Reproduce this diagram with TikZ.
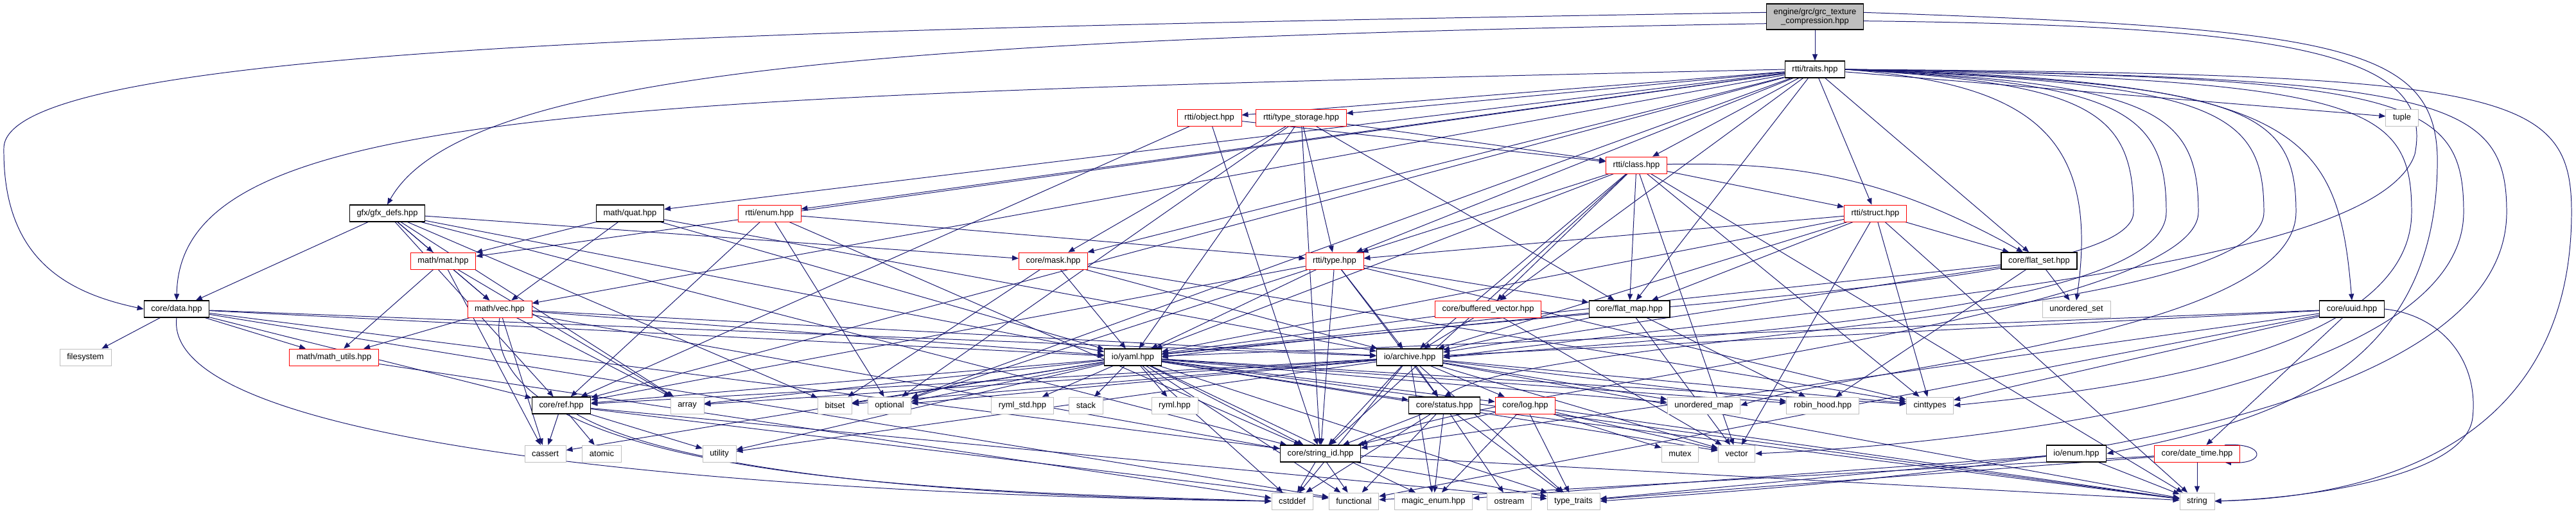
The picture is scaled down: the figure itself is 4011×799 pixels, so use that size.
\documentclass[tikz,border=0pt]{standalone}
\usepackage{fontspec}
\setmainfont{Liberation Sans}
\usetikzlibrary{arrows.meta,backgrounds}
\definecolor{Edge}{HTML}{191970}
\definecolor{Part}{HTML}{FF0000}
\definecolor{Sys}{HTML}{BFBFBF}
\definecolor{Main}{HTML}{BFBFBF}
\definecolor{Ink}{HTML}{000000}

\begin{document}
\begin{tikzpicture}[
  x=0.25mm, y=-0.25mm,
  file/.style={draw=Ink,line width=0.8pt,fill=white,minimum height=6.5mm,inner xsep=2.8mm,inner ysep=0pt,font=\fontsize{9.2}{10}\selectfont},
  part/.style={file,draw=Part,line width=0.6pt},
  sys/.style={file,draw=Sys,line width=0.6pt},
  main/.style={file,fill=Main,minimum height=10mm,align=center},
  arrow/.style={-{Triangle[length=2.5mm,width=2mm]},line width=0.7pt,draw=Edge}
]
\useasboundingbox (0,0) rectangle (4011,799);
% headers, top to bottom
\node[main] (root) at (2826,26) {engine/grc/grc\_texture\\\_compression.hpp};
\node[file] (traits) at (2826,108) {rtti/traits.hpp};
\node[part] (object) at (1883,183) {rtti/object.hpp};
\node[part] (tstorage) at (2026,183) {rtti/type\_storage.hpp};
\node[sys] (tuple) at (3740,183) {tuple};
\node[part] (class) at (2548,257) {rtti/class.hpp};
\node[file] (gfxdefs) at (603,332) {gfx/gfx\_defs.hpp};
\node[file] (quat) at (981,332) {math/quat.hpp};
\node[part] (renum) at (1198,332) {rtti/enum.hpp};
\node[part] (struct) at (2920,332) {rtti/struct.hpp};
\node[file] (flatset) at (3175,406) {core/flat\_set.hpp};
\node[part] (mat) at (690,406) {math/mat.hpp};
\node[part] (mask) at (1640,406) {core/mask.hpp};
\node[part] (type) at (2078,406) {rtti/type.hpp};
\node[sys] (uset) at (3233,481) {unordered\_set};
\node[file] (uuid) at (3662,481) {core/uuid.hpp};
\node[file] (data) at (275,481) {core/data.hpp};
\node[part] (vec) at (778,481) {math/vec.hpp};
\node[part] (bvec) at (2317,481) {core/buffered\_vector.hpp};
\node[file] (flatmap) at (2537,481) {core/flat\_map.hpp};
\node[sys] (fs) at (133,556) {filesystem};
\node[part] (mutils) at (520,556) {math/math\_utils.hpp};
\node[file] (yaml) at (1764,556) {io/yaml.hpp};
\node[file] (archive) at (2195,556) {io/archive.hpp};
\node[file] (ref) at (874,631) {core/ref.hpp};
\node[sys] (array) at (1070,631) {array};
\node[sys] (bitset) at (1300,631) {bitset};
\node[sys] (optional) at (1385,631) {optional};
\node[sys] (rymlstd) at (1592,631) {ryml\_std.hpp};
\node[sys] (stack) at (1691,631) {stack};
\node[sys] (ryml) at (1829,631) {ryml.hpp};
\node[file] (status) at (2249,631) {core/status.hpp};
\node[part] (log) at (2375,631) {core/log.hpp};
\node[sys] (umap) at (2653,631) {unordered\_map};
\node[sys] (robin) at (2838,631) {robin\_hood.hpp};
\node[sys] (cinttypes) at (3005,631) {cinttypes};
\node[sys] (cassert) at (849,706) {cassert};
\node[sys] (atomic) at (937,706) {atomic};
\node[sys] (utility) at (1120,706) {utility};
\node[file] (strid) at (2056,706) {core/string\_id.hpp};
\node[sys] (mutex) at (2616,706) {mutex};
\node[sys] (vector) at (2704,706) {vector};
\node[file] (ioenum) at (3233,706) {io/enum.hpp};
\node[part] (datetime) at (3421,706) {core/date\_time.hpp};
\node[sys] (cstddef) at (2012,780) {cstddef};
\node[sys] (functional) at (2108,780) {functional};
\node[sys] (magic) at (2232,780) {magic\_enum.hpp};
\node[sys] (ostream) at (2350,780) {ostream};
\node[sys] (ttraits) at (2450,780) {type\_traits};
\node[sys] (string) at (3421,780) {string};

\begin{scope}[on background layer]
\fill[white] (0,0) rectangle (4011,799);
% root
\draw[arrow] (root) -- (traits);
\draw[arrow] (root.175) .. controls (1200,45) and (10,70) .. (6,230) .. controls (4,400) and (100,455) .. (data.west);
\draw[arrow] (root.188) .. controls (1400,60) and (720,110) .. (gfxdefs.north);
\draw[arrow] (root.5) .. controls (3650,45) and (3800,70) .. (3795,260) .. controls (3790,600) and (3500,660) .. (ioenum.east);
\draw[arrow] (root.-5) .. controls (3600,40) and (3790,90) .. (3760,240) .. controls (3700,420) and (2900,470) .. (archive.east);
% traits
\draw[arrow] (traits.west) .. controls (900,150) and (280,170) .. (data.north);
\draw[arrow] (traits) -- (quat);
\draw[arrow] (traits) -- (renum);
\draw[arrow] (traits) -- (object);
\draw[arrow] (traits) -- (tstorage);
\draw[arrow] (traits) -- (tuple);
\draw[arrow] (traits) -- (class);
\draw[arrow] (traits) -- (struct);
\draw[arrow] (traits) -- (flatset);
\draw[arrow] (traits) -- (mat);
\draw[arrow] (traits) -- (vec);
\draw[arrow] (traits) -- (mask);
\draw[arrow] (traits) -- (type);
\draw[arrow] (traits) -- (bvec);
\draw[arrow] (traits) -- (flatmap);
\draw[arrow] (traits) -- (ref);
\draw[arrow] (traits) -- (optional);
\draw[arrow] (traits.east) .. controls (3150,130) and (3272,200) .. (uset.north);
\draw[arrow] (traits.east) .. controls (3250,130) and (3322,170) .. (3322,330) .. controls (3322,450) and (2500,470) .. (yaml.east);
\draw[arrow] (traits.east) .. controls (3300,130) and (3373,170) .. (3373,330) .. controls (3373,480) and (2700,520) .. (archive.east);
\draw[arrow] (traits.east) .. controls (3350,130) and (3423,170) .. (3423,330) .. controls (3423,500) and (2300,600) .. (strid.north east);
\draw[arrow] (traits.east) .. controls (3450,130) and (3525,170) .. (3525,330) .. controls (3525,500) and (2400,520) .. (status.north);
\draw[arrow] (traits.east) .. controls (3500,130) and (3575,170) .. (3575,330) .. controls (3575,520) and (2900,570) .. (umap.east);
\draw[arrow] (traits.east) .. controls (3580,125) and (3640,200) .. (uuid.north);
\draw[arrow] (traits.east) .. controls (3680,125) and (3755,160) .. (3755,330) .. controls (3755,560) and (3250,610) .. (cinttypes.east);
\draw[arrow] (traits.east) .. controls (3750,120) and (3836,150) .. (3836,330) .. controls (3836,600) and (3100,690) .. (vector.east);
\draw[arrow] (traits.east) .. controls (3800,120) and (3903,150) .. (3903,330) .. controls (3903,690) and (2900,750) .. (ttraits.east);
\draw[arrow] (traits.east) .. controls (3900,115) and (4004,140) .. (4004,330) .. controls (4004,720) and (3650,775) .. (string.east);
% gfx
\draw[arrow] (gfxdefs) -- (data);
\draw[arrow] (gfxdefs) -- (mat);
\draw[arrow] (gfxdefs) -- (vec);
\draw[arrow] (gfxdefs) -- (mask);
\draw[arrow] (gfxdefs) -- (yaml);
\draw[arrow] (gfxdefs) -- (ref);
\draw[arrow] (gfxdefs) -- (strid);
\draw[arrow] (gfxdefs) -- (array);
\draw[arrow] (gfxdefs) -- (bitset);
% math
\draw[arrow] (quat) -- (mat);
\draw[arrow] (quat) -- (vec);
\draw[arrow] (quat) -- (yaml);
\draw[arrow] (quat) -- (archive);
\draw[arrow] (mat) -- (vec);
\draw[arrow] (mat) -- (mutils);
\draw[arrow] (mat) -- (array);
\draw[arrow] (mat) -- (cassert);
\draw[arrow] (vec) -- (mutils);
\draw[arrow] (vec) -- (cassert);
\draw[arrow] (vec) -- (yaml);
\draw[arrow] (vec) -- (archive);
\draw[arrow] (vec) -- (ttraits);
\draw[arrow] (vec) -- (array);
\draw[arrow] (vec.south) .. controls (740,750) and (1500,765) .. (cstddef.west);
\draw[arrow] (mutils) -- (cstddef);
% rtti
\draw[arrow] (renum) -- (type);
\draw[arrow] (renum) -- (ref);
\draw[arrow] (renum) -- (strid);
\draw[arrow] (renum) -- (optional);
\draw[arrow] (object) -- (class);
\draw[arrow] (object) -- (ref);
\draw[arrow] (object) -- (strid);
\draw[arrow] (tstorage) -- (class);
\draw[arrow] (tstorage) -- (type);
\draw[arrow] (tstorage) -- (mask);
\draw[arrow] (tstorage) -- (flatmap);
\draw[arrow] (tstorage) -- (yaml);
\draw[arrow] (tstorage) -- (optional);
\draw[arrow] (tstorage) -- (strid);
\draw[arrow] (class) -- (type);
\draw[arrow] (class) -- (struct);
\draw[arrow] (class) to[bend left=15] (flatset);
\draw[arrow] (class) -- (bvec);
\draw[arrow] (class) -- (flatmap);
\draw[arrow] (class) -- (archive);
\draw[arrow] (class) -- (yaml);
\draw[arrow] (class) -- (cinttypes);
\draw[arrow] (class) -- (vector);
\draw[arrow] (class) -- (string);
\draw[arrow] (class) -- (strid);
\draw[arrow] (struct) -- (type);
\draw[arrow] (struct) -- (flatset);
\draw[arrow] (struct) -- (flatmap);
\draw[arrow] (struct) -- (archive);
\draw[arrow] (struct) -- (yaml);
\draw[arrow] (struct) -- (cinttypes);
\draw[arrow] (struct) -- (vector);
\draw[arrow] (struct) -- (string);
\draw[arrow] (type) -- (yaml);
\draw[arrow] (type) -- (archive);
\draw[arrow] (type) -- (optional);
\draw[arrow] (type) -- (strid);
\draw[arrow] (type) -- (ref);
\draw[arrow] (type) -- (status);
\draw[arrow] (type) -- (flatmap);
\draw[arrow] (type) -- (cinttypes);
% core
\draw[arrow] (flatset) -- (uset);
\draw[arrow] (flatset) -- (robin);
\draw[arrow] (flatset) -- (yaml);
\draw[arrow] (flatset) -- (archive);
\draw[arrow] (mask) -- (yaml);
\draw[arrow] (mask) -- (archive);
\draw[arrow] (mask) -- (bitset);
\draw[arrow] (mask) -- (cinttypes);
\draw[arrow] (uuid) -- (datetime);
\draw[arrow] (uuid) -- (archive);
\draw[arrow] (uuid) -- (yaml);
\draw[arrow] (uuid) -- (cinttypes);
\draw[arrow] (uuid) -- (strid);
\draw[arrow] (uuid) -- (functional);
\draw[arrow] (uuid.east) .. controls (3800,490) and (3860,560) .. (3850,650) .. controls (3840,740) and (3600,775) .. (string.east);
\draw[arrow] (bvec) -- (archive);
\draw[arrow] (bvec) -- (yaml);
\draw[arrow] (bvec) -- (vector);
\draw[arrow] (flatmap) -- (archive);
\draw[arrow] (flatmap) -- (yaml);
\draw[arrow] (flatmap) -- (vector);
\draw[arrow] (flatmap) -- (robin);
\draw[arrow] (data) -- (fs);
\draw[arrow] (data) -- (mutils);
\draw[arrow] (data) -- (ref);
\draw[arrow] (data) -- (yaml);
\draw[arrow] (data) -- (archive);
\draw[arrow] (data) -- (strid);
\draw[arrow] (data) -- (functional);
\draw[arrow] (data.south) .. controls (250,700) and (1200,770) .. (cstddef.west);
% io
\draw[arrow] (yaml) -- (ref);
\draw[arrow] (yaml) -- (array);
\draw[arrow] (yaml) -- (bitset);
\draw[arrow] (yaml) -- (optional);
\draw[arrow] (yaml) -- (rymlstd);
\draw[arrow] (yaml) -- (stack);
\draw[arrow] (yaml) -- (ryml);
\draw[arrow] (yaml) -- (strid);
\draw[arrow] (yaml) -- (status);
\draw[arrow] (yaml) -- (log);
\draw[arrow] (yaml) -- (umap);
\draw[arrow] (yaml) -- (robin);
\draw[arrow] (yaml) -- (cinttypes);
\draw[arrow] (yaml) -- (vector);
\draw[arrow] (yaml) -- (utility);
\draw[arrow] (yaml) -- (cassert);
\draw[arrow] (yaml) -- (cstddef);
\draw[arrow] (yaml) -- (functional);
\draw[arrow] (yaml) -- (magic);
\draw[arrow] (yaml) -- (string);
\draw[arrow] (yaml) -- (ttraits);
\draw[arrow] (archive) -- (ref);
\draw[arrow] (archive) -- (array);
\draw[arrow] (archive) -- (bitset);
\draw[arrow] (archive) -- (optional);
\draw[arrow] (archive) -- (strid);
\draw[arrow] (archive) -- (status);
\draw[arrow] (archive) -- (log);
\draw[arrow] (archive) -- (umap);
\draw[arrow] (archive) -- (robin);
\draw[arrow] (archive) -- (cinttypes);
\draw[arrow] (archive) -- (vector);
\draw[arrow] (archive) -- (utility);
\draw[arrow] (archive) -- (cstddef);
\draw[arrow] (archive) -- (magic);
\draw[arrow] (archive) -- (string);
\draw[arrow] (archive) -- (ttraits);
\draw[arrow] (ioenum) -- (magic);
\draw[arrow] (ioenum) -- (ttraits);
\draw[arrow] (ioenum) -- (string);
% bottom rows
\draw[arrow] (ref) -- (cassert);
\draw[arrow] (ref) -- (atomic);
\draw[arrow] (ref) -- (utility);
\draw[arrow] (ref) .. controls (1100,760) and (1700,775) .. (cstddef.west);
\draw[arrow] (ref) -- (functional);
\draw[arrow] (ref) -- (ttraits);
\draw[arrow] (status) -- (strid);
\draw[arrow] (status) -- (cstddef);
\draw[arrow] (status) -- (functional);
\draw[arrow] (status) -- (magic);
\draw[arrow] (status) -- (ostream);
\draw[arrow] (status) -- (ttraits);
\draw[arrow] (status) -- (string);
\draw[arrow] (log) -- (mutex);
\draw[arrow] (log) -- (vector);
\draw[arrow] (log) -- (strid);
\draw[arrow] (log) -- (string);
\draw[arrow] (log) -- (ttraits);
\draw[arrow] (log) -- (magic);
\draw[arrow] (strid) -- (cstddef);
\draw[arrow] (strid) -- (functional);
\draw[arrow] (strid) -- (string);
\draw[arrow] (datetime) -- (string);
\draw[arrow] (datetime) -- (ttraits);
\draw[arrow] (datetime) -- (functional);
\draw[arrow] ([xshift=-6mm]datetime.north east) .. controls +(65,-4) and +(65,4) .. ([xshift=-6mm]datetime.south east);
\end{scope}
\end{tikzpicture}
\end{document}
